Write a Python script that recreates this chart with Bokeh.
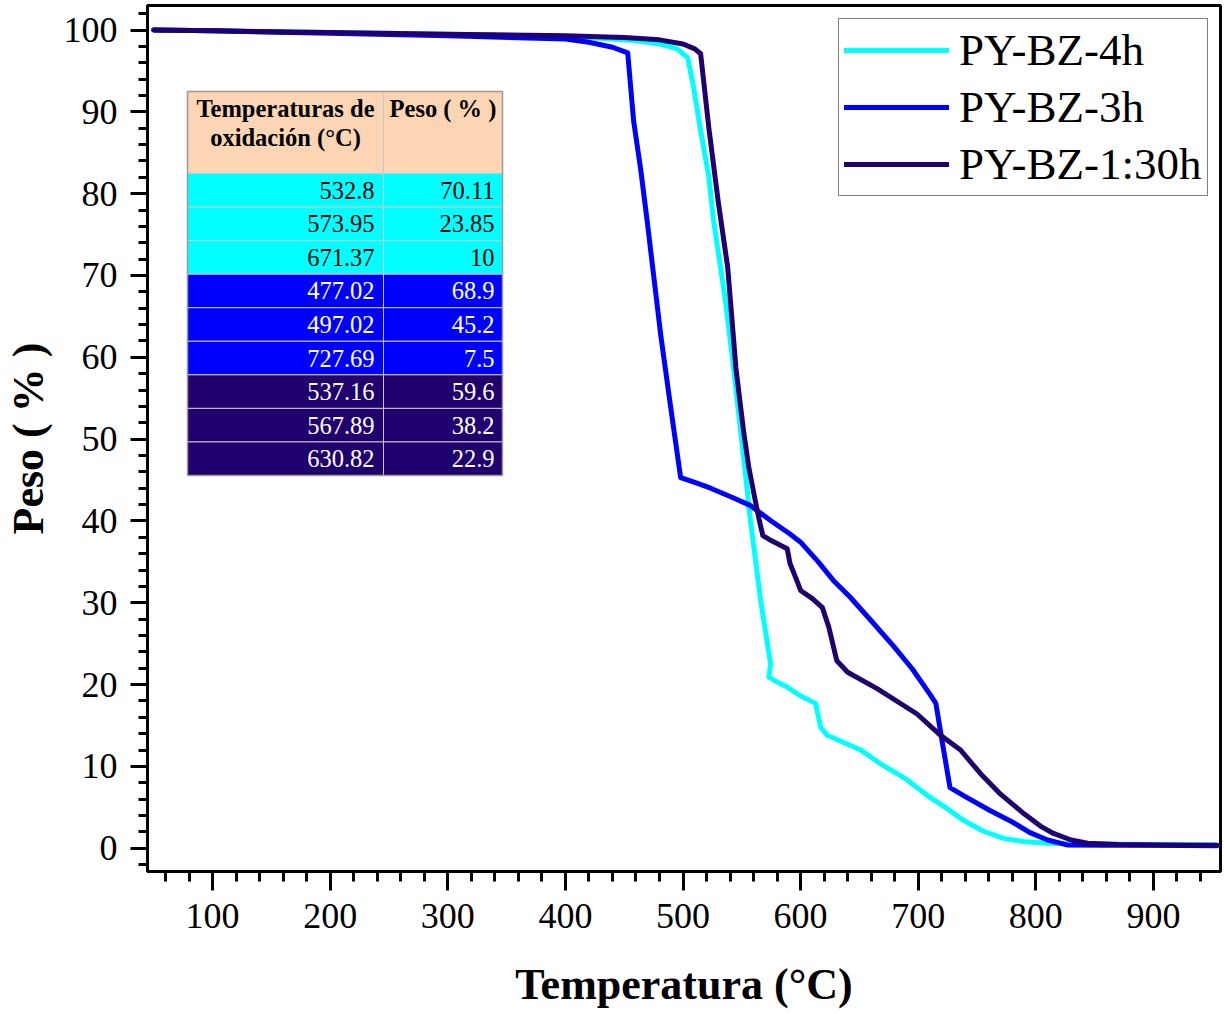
from bokeh.plotting import figure
from bokeh.models import Range1d, SingleIntervalTicker, Legend, LegendItem
from bokeh.core.properties import value
from bokeh.embed import file_html
from bokeh.resources import INLINE

# ---------------- data ----------------
t_4h = [50, 100, 200, 300, 400, 430, 460, 480, 495, 504, 509, 515, 522, 526, 536, 543, 549, 555, 556,
        566, 574.5, 573, 580, 588.5, 600, 612.7, 617, 622.5, 640, 651, 668, 690, 710, 725, 738.5, 755,
        772.5, 790, 810, 840, 900, 954]
w_4h = [100, 99.9, 99.7, 99.5, 99.2, 99.0, 98.7, 98.3, 97.7, 96.6, 93, 87.7, 82, 76.7, 67, 58.7, 51, 43.3, 41.6,
        30.3, 22.5, 20.9, 20.3, 19.7, 18.6, 17.7, 14.8, 13.8, 12.7, 12.0, 10.3, 8.4, 6.2, 4.8, 3.4, 2.1,
        1.2, 0.8, 0.6, 0.5, 0.45, 0.4]

t_3h = [50, 100, 200, 300, 400, 420, 440, 453, 458, 464, 469.5, 481, 489.5, 498, 510, 523.5, 543, 557,
        575, 591, 600, 615, 628, 642, 660, 679, 695, 710, 715, 719, 723, 727, 740, 761, 780, 795, 810,
        826.5, 860, 900, 954]
w_3h = [100, 99.9, 99.6, 99.3, 98.9, 98.5, 97.9, 97.2, 88.9, 83, 76.7, 62.8, 53.9, 45.3, 44.7, 44.0, 42.8, 41.9,
        40.0, 38.4, 37.4, 35.0, 32.7, 30.7, 27.8, 24.7, 21.9, 18.8, 17.7, 14.2, 10.8, 7.4, 6.3, 4.6, 3.2, 1.9, 1.0,
        0.4, 0.35, 0.35, 0.3]

t_130 = [50, 100, 200, 300, 400, 450, 480, 500, 510, 515, 522, 530, 538, 545, 551.5, 556, 561.7, 565,
         567.9, 575, 588.6, 591, 596, 600, 610, 618.5, 624, 630.8, 640, 665, 699, 719, 736, 753, 770, 790,
         805, 815, 830, 844, 870, 900, 954]
w_130 = [100, 99.9, 99.7, 99.5, 99.3, 99.1, 98.8, 98.3, 97.7, 97.1, 88, 79, 71, 58.7, 51, 46.5, 42.3, 40,
         38.2, 37.6, 36.6, 34.8, 33, 31.5, 30.5, 29.4, 27, 22.9, 21.5, 19.5, 16.4, 13.8, 12, 9.1, 6.6, 4.2,
         2.6, 1.8, 1.0, 0.6, 0.45, 0.4, 0.35]

series_names = ["PY-BZ-4h", "PY-BZ-3h", "PY-BZ-1:30h"]
series_colors = ["#00FFFF", "#0000FF", "#20006E"]

tbl_header = ["Temperaturas de", "oxidación (°C)", "Peso ( % )"]
tbl_temp = ["532.8", "573.95", "671.37", "477.02", "497.02", "727.69", "537.16", "567.89", "630.82"]
tbl_peso = ["70.11", "23.85", "10", "68.9", "45.2", "7.5", "59.6", "38.2", "22.9"]
tbl_group = [0, 0, 0, 1, 1, 1, 2, 2, 2]
tbl_text_colors = ["black", "white", "white"]
header_color = "#FCD5B4"

# ---------------- figure ----------------
X0, X1 = 44.7, 957.0
Y0, Y1 = -2.85, 103.0
W, H = 1225, 1014
BL, BR, BT, BB = 147, 5, 5, 143
FW, FH = W - BL - BR, H - BT - BB

p = figure(width=W, height=H, x_range=Range1d(X0, X1), y_range=Range1d(Y0, Y1),
           output_backend="svg", toolbar_location=None,
           min_border_left=BL, min_border_right=BR, min_border_top=BT, min_border_bottom=BB)
p.background_fill_color = "white"
p.border_fill_color = "white"
p.grid.visible = False
p.outline_line_color = "black"
p.outline_line_width = 3

FONT = "Liberation Serif"

p.xaxis.ticker = SingleIntervalTicker(interval=100, num_minor_ticks=5)
p.yaxis.ticker = SingleIntervalTicker(interval=10, num_minor_ticks=5)
for ax in (p.xaxis[0], p.yaxis[0]):
    ax.axis_line_width = 3
    ax.major_tick_line_width = 3
    ax.minor_tick_line_width = 3
    ax.major_tick_in = 0
    ax.minor_tick_in = 0
    ax.major_label_text_font = FONT
    ax.major_label_text_font_size = "36px"
    ax.major_label_text_color = "black"
    ax.axis_label_text_font = FONT
    ax.axis_label_text_font_size = "44px"
    ax.axis_label_text_font_style = "bold"
    ax.axis_label_text_color = "black"
p.xaxis.major_tick_out = 19
p.xaxis.minor_tick_out = 10
p.yaxis.major_tick_out = 17
p.yaxis.minor_tick_out = 9
p.xaxis.major_label_standoff = 13
p.yaxis.major_label_standoff = 13
p.xaxis.axis_label = "Temperatura (°C)"
p.yaxis.axis_label = "Peso ( % )"
p.xaxis.axis_label_standoff = 29
p.yaxis.axis_label_standoff = 8


def fx(px):
    return X0 + (px - BL) / FW * (X1 - X0)


def fy(py):
    return Y1 - (py - BT) / FH * (Y1 - Y0)


# ---------------- table ----------------
tx_l, tx_m, tx_r = fx(187), fx(383), fx(502)
ty_top, ty_hb = fy(91), fy(173)
row_h = (fy(173) - fy(475)) / len(tbl_temp)

p.quad(left=[tx_l, tx_m], right=[tx_m, tx_r], top=[ty_top] * 2, bottom=[ty_hb] * 2,
       fill_color=header_color, line_color="#c8c8c8", line_width=1)

rows_top = [ty_hb - i * row_h for i in range(len(tbl_temp))]
rows_bot = [t - row_h for t in rows_top]
fills = [series_colors[g] for g in tbl_group]
tcols = [tbl_text_colors[g] for g in tbl_group]
p.quad(left=[tx_l] * len(rows_top) + [tx_m] * len(rows_top),
       right=[tx_m] * len(rows_top) + [tx_r] * len(rows_top),
       top=rows_top * 2, bottom=rows_bot * 2, fill_color=fills * 2,
       line_color="#c8c8c8", line_width=1)
p.quad(left=[tx_l], right=[tx_r], top=[ty_top], bottom=[rows_bot[-1]],
       fill_color=None, line_color="#9a9a9a", line_width=1.5)

p.text(x=[(tx_l + tx_m) / 2, (tx_l + tx_m) / 2, (tx_m + tx_r) / 2],
       y=[fy(108), fy(137), fy(108)], text=tbl_header,
       text_font=value(FONT), text_font_style="bold", text_font_size="24.5px",
       text_align="center", text_baseline="middle", text_color="black")

mids = [(a + b) / 2 for a, b in zip(rows_top, rows_bot)]
p.text(x=[fx(374)] * len(mids), y=mids, text=tbl_temp, text_font=value(FONT),
       text_font_size="24.5px", text_align="right", text_baseline="middle", text_color=tcols)
p.text(x=[fx(494)] * len(mids), y=mids, text=tbl_peso, text_font=value(FONT),
       text_font_size="24.5px", text_align="right", text_baseline="middle", text_color=tcols)

# ---------------- curves ----------------
renderers = []
for (tt, ww), name, col in zip([(t_4h, w_4h), (t_3h, w_3h), (t_130, w_130)], series_names, series_colors):
    r = p.line(tt, ww, line_color=col, line_width=5, line_cap="round", line_join="round")
    renderers.append((name, [r]))

legend = Legend(items=[LegendItem(label=n, renderers=r) for n, r in renderers],
                location=(691, 675))
legend.label_text_font = FONT
legend.label_text_font_size = "45px"
legend.label_text_color = "black"
legend.glyph_width = 105
legend.glyph_height = 50
legend.label_height = 50
legend.label_standoff = 10
legend.spacing = 5
legend.padding = 5
legend.margin = 0
legend.border_line_color = "black"
legend.border_line_width = 1.5
legend.background_fill_color = "white"
legend.background_fill_alpha = 1
p.add_layout(legend, "center")

open("out.html", "w").write(file_html(p, INLINE))
